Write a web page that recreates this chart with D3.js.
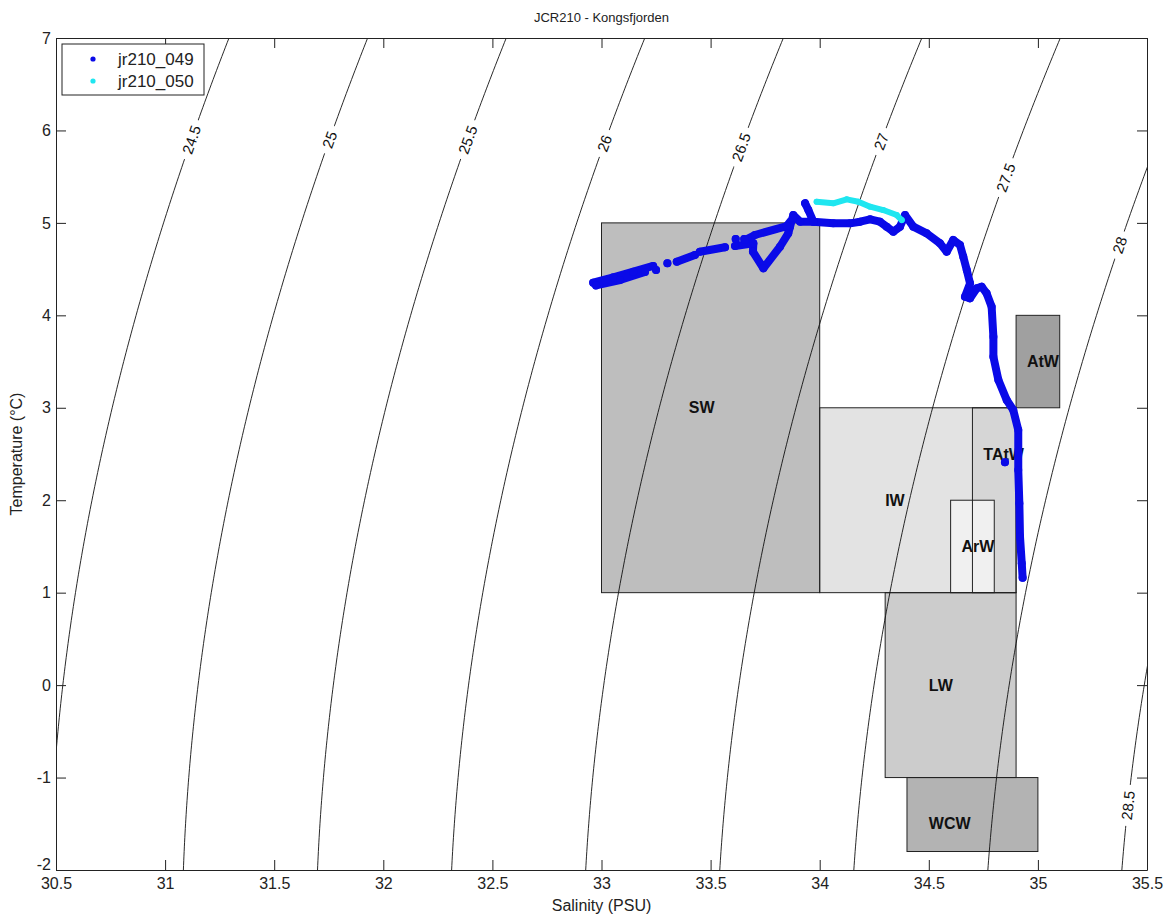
<!DOCTYPE html>
<html><head><meta charset="utf-8">
<script src="https://cdn.jsdelivr.net/npm/d3@7"></script>
<style>
body{margin:0;background:#fff;}
svg{display:block;}
text{font-family:"Liberation Sans",Arial,Helvetica,sans-serif;}
</style>
</head><body>
<svg id="chart" width="1174" height="921"></svg>
<script>
// ---------- data ----------
const xDomain = [30.5, 35.5];
const yDomain = [-2, 7];
const xTicks = [30.5, 31, 31.5, 32, 32.5, 33, 33.5, 34, 34.5, 35, 35.5];
const yTicks = [-2, -1, 0, 1, 2, 3, 4, 5, 6, 7];

const densityLevels = [24.5, 25, 25.5, 26, 26.5, 27, 27.5, 28, 28.5];
const densityLabelT = [5.9, 5.9, 5.9, 5.86, 5.82, 5.88, 5.49, 4.76, -1.3];

const regionNames  = ["SW", "IW", "TAtW", "ArW", "LW", "WCW", "AtW"];
const regionSmin   = [33, 34, 34.7, 34.6, 34.3, 34.4, 34.9];
const regionSmax   = [34, 34.9, 34.9, 34.8, 34.9, 35, 35.1];
const regionTmin   = [1, 1, 1, 1, -1, -1.8, 3];
const regionTmax   = [5, 3, 3, 2, 1, -1, 4];
const regionLabelS = [33.4, 34.3, 34.75, 34.65, 34.5, 34.5, 34.95];
const regionLabelT = [3, 2, 2.5, 1.5, 0, -1.5, 3.5];

const seriesNames = ["jr210_049", "jr210_050"];
// [salinity, temperature]; null separates unconnected pieces
const jr210_049 = [
  [32.962,4.353],[33.054,4.411],[33.146,4.472],[33.237,4.534], null,
  [32.975,4.323],[33.085,4.382],[33.199,4.469], null,
  [33.250,4.490], null,
  [33.302,4.563], null,
  [33.345,4.580],[33.428,4.653], null,
  [33.451,4.688],[33.566,4.736], null,
  [33.615,4.826], null,
  [33.654,4.826], null,
  [33.612,4.750],[33.696,4.779],[33.694,4.688],[33.742,4.509],[33.818,4.742],[33.856,4.887],
  [33.864,4.959],[33.879,5.085],[33.910,5.013],[33.971,5.013],[34.062,4.995],[34.139,4.995],
  [34.185,5.013],[34.231,5.039],[34.276,5.013],[34.307,4.959],[34.337,4.905],[34.368,4.959],
  [34.391,5.085],[34.429,4.959],[34.490,4.887],[34.551,4.779],[34.582,4.688],[34.612,4.815],
  [34.643,4.761],[34.658,4.634],[34.674,4.490],[34.689,4.346],[34.666,4.201],[34.689,4.184],
  [34.720,4.292],[34.742,4.310],[34.765,4.238],[34.788,4.093],[34.796,3.769],[34.796,3.552],
  [34.819,3.300],[34.857,3.084],[34.887,2.976],[34.910,2.759],[34.910,2.327],[34.915,1.966],
  [34.918,1.605],[34.926,1.318],[34.930,1.162], null,
  [33.658,4.815],[33.703,4.869],[33.849,4.966],[33.878,5.053], null,
  [33.933,5.212],[33.948,5.139],[33.971,5.013], null,
  [34.849,2.410]
];
const jr210_050 = [
  [33.986,5.229],[34.062,5.212],[34.124,5.255],[34.177,5.229],
  [34.231,5.175],[34.291,5.139],[34.353,5.085],[34.376,5.031]
];

// ---------- styles ----------
const regionFills = ["#bebebe", "#e3e3e3", "#d6d6d6", "#f0f0f0", "#cccccc", "#b3b3b3", "#a0a0a0"];
const seriesColors = ["#0a0ae8", "#1fe6f0"];
const seriesWidths = [8, 6];

// ---------- layout ----------
const W = 1174, H = 921;
const L = 56, R = 1147, T0 = 38, B = 870;
const svg = d3.select("#chart");
svg.append("rect").attr("width", W).attr("height", H).attr("fill", "#fff");

const x = d3.scaleLinear().domain(xDomain).range([L, R]);
const y = d3.scaleLinear().domain(yDomain).range([B, T0]);

svg.append("defs").append("clipPath").attr("id", "plotclip")
  .append("rect").attr("x", L).attr("y", T0).attr("width", R - L).attr("height", B - T0);

// ---------- density (UNESCO EOS-80, p = 0) ----------
function sigmaT(S, T) {
  const rw = 999.842594 + 6.793952e-2*T - 9.095290e-3*T*T + 1.001685e-4*T**3
           - 1.120083e-6*T**4 + 6.536332e-9*T**5;
  const A = 0.824493 - 4.0899e-3*T + 7.6438e-5*T*T - 8.2467e-7*T**3 + 5.3875e-9*T**4;
  const Bc = -5.72466e-3 + 1.0227e-4*T - 1.6546e-6*T*T;
  const C = 4.8314e-4;
  return rw + A*S + Bc*Math.pow(S, 1.5) + C*S*S - 1000;
}
function salinityAt(level, T) {
  let lo = 20, hi = 42;
  for (let i = 0; i < 60; i++) {
    const mid = (lo + hi) / 2;
    if (sigmaT(mid, T) < level) lo = mid; else hi = mid;
  }
  return (lo + hi) / 2;
}

// ---------- water mass boxes ----------
const regions = regionNames.map((n, i) => ({
  name: n, s0: regionSmin[i], s1: regionSmax[i], t0: regionTmin[i], t1: regionTmax[i],
  ls: regionLabelS[i], lt: regionLabelT[i], fill: regionFills[i]
}));
const gBox = svg.append("g");
gBox.selectAll("rect.fill").data(regions).join("rect").attr("class", "fill")
  .attr("x", d => x(d.s0)).attr("y", d => y(d.t1))
  .attr("width", d => x(d.s1) - x(d.s0)).attr("height", d => y(d.t0) - y(d.t1))
  .attr("fill", d => d.fill).attr("stroke", "none");
gBox.selectAll("rect.edge").data(regions).join("rect").attr("class", "edge")
  .attr("x", d => x(d.s0)).attr("y", d => y(d.t1))
  .attr("width", d => x(d.s1) - x(d.s0)).attr("height", d => y(d.t0) - y(d.t1))
  .attr("fill", "none").attr("stroke", "#222").attr("stroke-width", 1);

// ---------- isopycnals ----------
const gCont = svg.append("g").attr("clip-path", "url(#plotclip)");
const tGrid = d3.range(-2.5, 7.51, 0.05);
const line = d3.line().x(d => x(d[0])).y(d => y(d[1]));
densityLevels.forEach(lv => {
  const pts = tGrid.map(t => [salinityAt(lv, t), t]);
  gCont.append("path").attr("d", line(pts)).attr("fill", "none")
    .attr("stroke", "#111").attr("stroke-width", 0.9);
});
const gLab = svg.append("g");
densityLevels.forEach((lv, i) => {
  const t = densityLabelT[i];
  const s = salinityAt(lv, t);
  const sa = salinityAt(lv, t - 0.05), sb = salinityAt(lv, t + 0.05);
  const ang = Math.atan2(y(t + 0.05) - y(t - 0.05), x(sb) - x(sa)) * 180 / Math.PI;
  const g = gLab.append("g").attr("transform", `translate(${x(s)},${y(t)}) rotate(${ang})`);
  const bg = g.append("rect").attr("fill", "#fff");
  const tx = g.append("text").attr("text-anchor", "middle").attr("dominant-baseline", "central")
    .attr("font-size", 15).attr("fill", "#111").text(String(lv));
  const w = tx.node().getComputedTextLength() + 12;
  bg.attr("x", -w / 2).attr("y", -8).attr("width", w).attr("height", 16);
});

// ---------- region labels ----------
svg.append("g").selectAll("text").data(regions).join("text")
  .attr("x", d => x(d.ls)).attr("y", d => y(d.lt))
  .attr("dominant-baseline", "central").attr("font-size", 16).attr("font-weight", "bold")
  .attr("fill", "#111").text(d => d.name);

// ---------- CTD profiles ----------
const gData = svg.append("g").attr("clip-path", "url(#plotclip)");
[jr210_049, jr210_050].forEach((arr, k) => {
  const ln = d3.line().defined(d => d !== null).x(d => x(d[0])).y(d => y(d[1]));
  gData.append("path").attr("d", ln(arr)).attr("fill", "none")
    .attr("stroke", seriesColors[k]).attr("stroke-width", seriesWidths[k])
    .attr("stroke-linejoin", "round").attr("stroke-linecap", "round");
  gData.selectAll(null).data(arr.filter(d => d !== null)).join("circle")
    .attr("cx", d => x(d[0])).attr("cy", d => y(d[1])).attr("r", seriesWidths[k] / 2)
    .attr("fill", seriesColors[k]);
});

// ---------- axes ----------
const fmt = d => String(d);
const axB = svg.append("g").attr("transform", `translate(0,${B})`)
  .call(d3.axisBottom(x).tickValues(xTicks).tickFormat(fmt).tickSizeInner(-10).tickSizeOuter(0).tickPadding(8));
const axT = svg.append("g").attr("transform", `translate(0,${T0})`)
  .call(d3.axisTop(x).tickValues(xTicks).tickFormat("").tickSizeInner(-10).tickSizeOuter(0));
const axL = svg.append("g").attr("transform", `translate(${L},0)`)
  .call(d3.axisLeft(y).tickValues(yTicks).tickFormat(fmt).tickSizeInner(-10).tickSizeOuter(0).tickPadding(5));
const axR = svg.append("g").attr("transform", `translate(${R},0)`)
  .call(d3.axisRight(y).tickValues(yTicks).tickFormat("").tickSizeInner(-10).tickSizeOuter(0));
[axB, axT, axL, axR].forEach(a => {
  a.selectAll("path.domain").attr("stroke", "#222");
  a.selectAll(".tick line").attr("stroke", "#222");
  a.selectAll("text").attr("font-size", 16).attr("fill", "#222")
    .attr("font-family", "'Liberation Sans',Arial,sans-serif");
});
// lowest y label sits slightly above the corner, as in the reference
axL.selectAll(".tick").filter(d => d === yDomain[0]).select("text").attr("dy", "-0.05em");

// ---------- titles ----------
svg.append("text").attr("x", (L + R) / 2).attr("y", 22).attr("text-anchor", "middle")
  .attr("font-size", 13).attr("fill", "#222").text("JCR210 - Kongsfjorden");
svg.append("text").attr("x", (L + R) / 2).attr("y", 911).attr("text-anchor", "middle")
  .attr("font-size", 16).attr("fill", "#222").text("Salinity (PSU)");
svg.append("text").attr("transform", `translate(22,${(T0 + B) / 2}) rotate(-90)`)
  .attr("text-anchor", "middle").attr("font-size", 16).attr("fill", "#222").text("Temperature (°C)");

// ---------- legend ----------
const gLeg = svg.append("g");
gLeg.append("rect").attr("x", 62).attr("y", 44).attr("width", 142).attr("height", 51)
  .attr("fill", "#fff").attr("stroke", "#222").attr("stroke-width", 1);
seriesNames.forEach((n, i) => {
  const yy = 59 + i * 22;
  gLeg.append("circle").attr("cx", 93).attr("cy", yy).attr("r", 2.6).attr("fill", seriesColors[i]);
  gLeg.append("text").attr("x", 118).attr("y", yy).attr("dominant-baseline", "central")
    .attr("font-size", 17).attr("fill", "#222").text(n);
});
</script>
</body></html>
